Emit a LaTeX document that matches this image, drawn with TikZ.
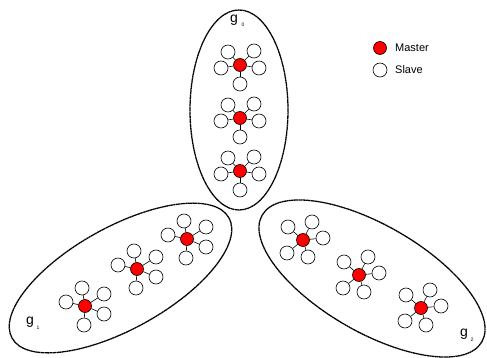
\documentclass[tikz,border=0pt]{standalone}
\usepackage{fontspec}
\setmainfont{Liberation Sans}
\begin{document}
\begin{tikzpicture}[x=1pt,y=-1pt,
  master/.style={circle,draw=black,fill=red,line width=0.6pt,minimum size=13pt,inner sep=0pt},
  slave/.style={circle,draw=black,fill=white,line width=0.6pt,minimum size=14pt,inner sep=0pt},
  link/.style={line width=0.6pt},
  group/.style={line width=1.3pt,dash pattern=on 2pt off 0.4pt},
  glabel/.style={font=\fontsize{14}{14}\selectfont,inner sep=0pt},
  gsub/.style={font=\fontsize{5}{5}\selectfont,inner sep=0pt},
  legend/.style={font=\fontsize{11}{11}\selectfont,inner sep=0pt,anchor=west}]
\useasboundingbox (0,0) rectangle (487,358);
\newcommand{\mycluster}[4]{%
  \node[master] (#1) at (#2,#3) {};
  \foreach \dx/\dy [count=\i] in {#4} {
    \node[slave] (#1s\i) at (#2+\dx,#3+\dy) {};
    \draw[link] (#1) -- (#1s\i);
  }}
% group ellipses
\draw[group] (239,110) ellipse [x radius=49, y radius=100];
\draw[group,rotate around={29:(120.5,278)}] (120.5,278) ellipse [x radius=124, y radius=51];
\draw[group,rotate around={-30:(372,278.5)}] (372,278.5) ellipse [x radius=126.8, y radius=53.5];
% g0
\mycluster{a}{240}{65}{-12/-13,14/-14,-19/3,19/3,0/19}
\mycluster{b}{240}{118}{-12/-13,14/-14,-19/3,19/3,0/19}
\mycluster{c}{240}{171}{-12/-13,14/-14,-19/3,19/3,0/19}
% g1
\mycluster{d}{85}{306}{-3/-18,19/-12,-19/-4,19/8,-1/19}
\mycluster{e}{137}{269}{-3/-18,19/-12,-19/-4,19/8,-1/19}
\mycluster{f}{187}{239}{-3/-18,19/-12,-19/-4,19/8,-1/19}
% g2
\mycluster{g}{303}{240}{-15/-13,9/-18,20/-2,-16/13,5/17}
\mycluster{h}{359}{275}{-15/-13,9/-18,20/-2,-16/13,5/17}
\mycluster{k}{421}{308}{-15/-13,9/-18,20/-2,-16/13,5/17}
% labels
\node[glabel] (l0) at (234,20) {g};
\node[gsub] (l0s) at (243,25) {0};
\node[glabel] (l1) at (30,322) {g};
\node[gsub] (l1s) at (38,328) {1};
\node[glabel] (l2) at (464,334) {g};
\node[gsub] (l2s) at (472,340) {2};
% legend
\node[master] (lm) at (380,48) {};
\node[legend] (lmt) at (395,48) {Master};
\node[slave] (ls) at (380,70) {};
\node[legend] (lst) at (395,70) {Slave};
\end{tikzpicture}
\end{document}
